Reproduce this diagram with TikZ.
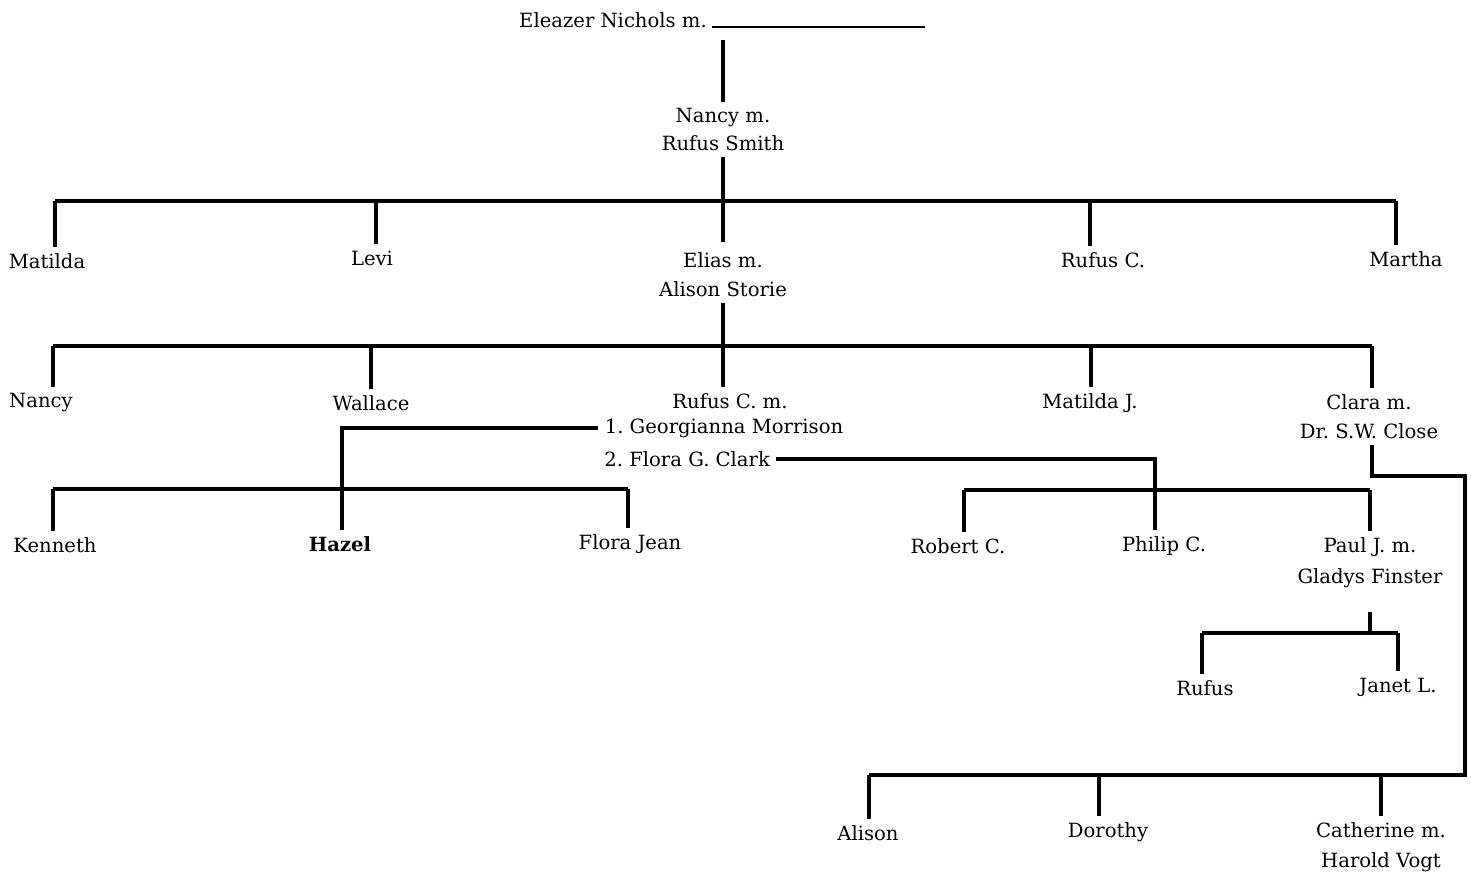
\documentclass[tikz,border=0pt]{standalone}
\usepackage{fontspec}
\setmainfont{DejaVu Serif}
\frenchspacing
\begin{document}
\begin{tikzpicture}[x=0.5pt,y=-0.5pt,
  lbl/.style={font=\fontsize{9.8}{14.5}\selectfont, inner sep=3pt, align=center},
  lead/.style={font=\fontsize{9.8}{#1}\selectfont},
  tree/.style={line width=1.6pt},
  blank/.style={line width=0.8pt}]
\useasboundingbox (0,0) rectangle (1471,876);

% generation 0
\node[lbl] (eleazer) at (613,20) {Eleazer Nichols m.};
\coordinate (u1) at (712,27);
\coordinate (u2) at (925,27);
\draw[blank] (u1) -- (u2);
\coordinate (a0) at (723,40);
\node[lbl, lead=13.5pt] (nancy) at (723,129.5) {Nancy m.\\Rufus Smith};
\draw[tree] (a0) -- (nancy.north);

% generation 1
\node[lbl] (matilda) at (47,261) {Matilda};
\node[lbl] (levi) at (372,258) {Levi};
\node[lbl, lead=14.5pt] (elias) at (723,274.5) {Elias m.\\Alison Storie};
\node[lbl] (rufusc) at (1103,260) {Rufus C.};
\node[lbl] (martha) at (1406,259) {Martha};
\coordinate (b1L) at (55,201);
\coordinate (b1R) at (1396,201);
\coordinate (d1b) at (376,201);
\coordinate (d1d) at (1090,201);
\draw[tree] (nancy.south) -- ([yshift=2pt]elias.north);
\draw[tree] (b1L) -- (b1R);
\draw[tree] (b1L) -- (b1L |- matilda.north);
\draw[tree] (d1b) -- (d1b |- levi.north);
\draw[tree] (d1d) -- (d1d |- rufusc.north);
\draw[tree] (b1R) -- (b1R |- martha.north);

% generation 2
\node[lbl] (nancy2) at (41,403) {Nancy};
\node[lbl] (wallace) at (371,403) {Wallace};
\node[lbl] (rufuscm) at (730,401) {Rufus C. m.};
\node[lbl] (georg) at (724,428) {1. Georgianna Morrison};
\node[lbl, anchor=west] (flora) at (598,459) {2. Flora G. Clark};
\node[lbl] (matildaj) at (1090,403) {Matilda J.};
\node[lbl, lead=14.5pt] (clara) at (1369,416.5) {Clara m.\\Dr. S.W. Close};
\coordinate (b2L) at (53,346);
\coordinate (b2R) at (1372,346);
\coordinate (d2b) at (371,346);
\coordinate (d2d) at (1091,346);
\draw[tree] (elias.south) -- (elias.south |- rufuscm.north);
\draw[tree] (b2L) -- (b2R);
\draw[tree] (b2L) -- (b2L |- nancy2.north);
\draw[tree] (d2b) -- (d2b |- wallace.north);
\draw[tree] (d2d) -- (d2d |- matildaj.north);
\draw[tree] (b2R) -- (b2R |- clara.north);

% generation 3, first marriage
\node[lbl] (kenneth) at (55,545) {Kenneth};
\node[lbl] (hazel) at (340,544) {\bfseries Hazel};
\node[lbl] (florajean) at (630,544) {Flora Jean};
\coordinate (c1) at (342,430);
\coordinate (b3L) at (53,489);
\coordinate (b3R) at (628,489);
\draw[tree] (georg.west) -- (georg.west -| c1) -- (c1 |- hazel.north);
\draw[tree] (b3L) -- (b3R);
\draw[tree] (b3L) -- (b3L |- kenneth.north);
\draw[tree] (b3R) -- (b3R |- florajean.north);

% generation 3, second marriage
\node[lbl] (robert) at (958,546) {Robert C.};
\node[lbl] (philip) at (1164,546) {Philip C.};
\node[lbl, lead=15.5pt] (paul) at (1370,562.5) {Paul J. m.\\Gladys Finster};
\coordinate (c2) at (1155,461);
\coordinate (b4L) at (964,490);
\coordinate (b4R) at (1370,490);
\draw[tree] (flora.east) -- (flora.east -| c2) -- (c2 |- philip.north);
\draw[tree] (b4L) -- (b4R);
\draw[tree] (b4L) -- (b4L |- robert.north);
\draw[tree] (b4R) -- (b4R |- paul.north);

% generation 4, Paul
\node[lbl] (rufus3) at (1205,688) {Rufus};
\node[lbl] (janet) at (1398,687) {Janet L.};
\coordinate (b5L) at (1202,633);
\coordinate (b5R) at (1398,633);
\draw[tree] ([yshift=-9pt]paul.south) -- (paul.south |- b5L);
\draw[tree] (b5L) -- (b5R);
\draw[tree] (b5L) -- (b5L |- rufus3.north);
\draw[tree] (b5R) -- (b5R |- janet.north);

% generation 3, Clara
\node[lbl] (alison) at (868,833) {Alison};
\node[lbl] (dorothy) at (1108,832) {Dorothy};
\node[lbl, lead=15pt] (catherine) at (1381,847) {Catherine m.\\Harold Vogt};
\coordinate (k1) at (1465,476);
\coordinate (b6L) at (869,775);
\coordinate (b6R) at (1465,775);
\coordinate (d6b) at (1099,775);
\coordinate (d6c) at (1381,775);
\draw[tree] ([xshift=1.5pt]clara.south) |- (k1) -- (b6R) -- (b6L);
\draw[tree] (b6L) -- (b6L |- alison.north);
\draw[tree] (d6b) -- (d6b |- dorothy.north);
\draw[tree] (d6c) -- (catherine.north);
\end{tikzpicture}
\end{document}
